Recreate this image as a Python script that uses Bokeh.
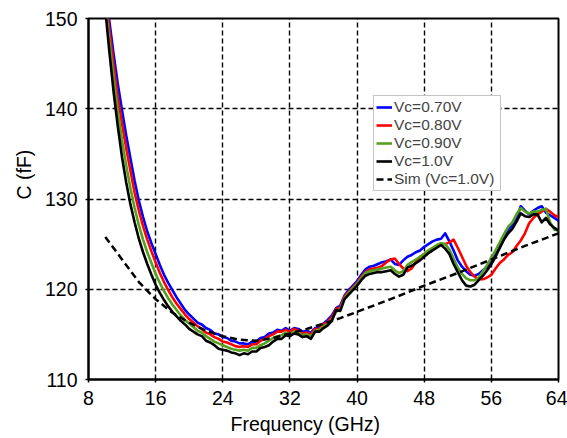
from bokeh.plotting import figure
from bokeh.models import Range1d, FixedTicker, Title
from bokeh.embed import file_html
from bokeh.resources import INLINE

FONT = "Liberation Sans"

# Measured capacitance C (fF) versus frequency (GHz) for several control voltages
freq = [10, 10.5, 11, 11.5, 12, 12.5, 13, 13.5, 14, 14.5, 15, 15.5, 16, 16.5, 17, 17.5,
        18, 18.5, 19, 19.5, 20,
        21, 21.5, 22, 22.5, 23, 23.5, 24, 24.5, 25, 25.5, 26, 26.5, 27, 27.5, 28, 28.5,
        29, 29.5, 30, 30.5, 31, 31.5, 32, 32.5, 33, 33.5, 34, 34.5, 35, 35.5, 36,
        36.5, 37, 37.5, 38, 38.5, 39, 39.5, 40, 40.5, 41, 41.5, 42, 42.5, 43, 43.5, 44,
        44.5, 45, 45.5, 46, 46.5, 47, 47.5, 48, 48.5, 49, 49.5, 50, 50.5, 51, 51.5, 52,
        52.5, 53, 53.5, 54, 54.5, 55, 55.5, 56, 56.5, 57, 57.5, 58, 58.5, 59, 59.5, 60,
        60.5, 61, 61.5, 62, 62.5, 63, 63.5, 64]

c_070 = [153.5, 149.6, 146.0, 142.7, 139.8, 137.0, 134.5, 132.0, 129.8, 128.0, 126.4, 125.1,
         123.9, 122.7, 121.6, 120.7, 119.9, 119.1, 118.4, 117.7, 117.2,
         116.3, 116.1, 115.7, 115.5, 115.1, 115.0, 114.7, 114.6, 114.3, 114.2, 114.0, 114.0,
         113.9, 114.2, 114.2, 114.6, 114.7, 115.1, 115.2, 115.5, 115.4, 115.7, 115.4, 115.7,
         115.6, 115.3, 115.4, 115.2, 115.7, 115.8, 116.2,
         116.6, 117.1, 117.9, 118.2, 119.3, 119.9, 120.4, 120.9, 121.6, 122.2, 122.5, 122.6,
         122.8, 123.0, 123.1, 123.3, 122.8, 122.7, 123.2, 123.6, 123.8, 124.1, 124.3, 124.7,
         125.0, 125.3, 125.5, 125.6, 126.2, 125.3, 124.3, 123.2, 122.5, 122.0, 121.6, 121.5,
         121.7, 122.1, 122.5, 123.2, 123.9, 124.6, 125.6, 126.6, 127.1, 127.8, 129.2, 128.7,
         128.3, 128.7, 129.0, 129.2, 128.5, 128.2, 127.9, 127.6]

c_080 = [152.6, 148.6, 144.8, 141.2, 138.3, 135.6, 133.1, 130.7, 128.7, 127.0, 125.5, 124.2,
         123.0, 121.8, 120.8, 119.9, 119.1, 118.4, 117.8, 117.2, 116.7,
         115.9, 115.6, 115.2, 115.0, 114.7, 114.5, 114.2, 114.1, 113.9, 113.7, 113.6, 113.7,
         113.6, 113.9, 113.9, 114.3, 114.5, 114.8, 115.0, 115.3, 115.3, 115.5, 115.3, 115.6,
         115.4, 115.1, 115.2, 115.0, 115.6, 115.6, 116.1,
         116.4, 116.9, 117.8, 118.0, 119.2, 119.7, 120.2, 120.7, 121.4, 121.9, 122.2, 122.3,
         122.4, 122.6, 123.0, 123.3, 123.4, 122.8, 122.3, 122.0, 122.3, 123.0, 123.6, 123.9,
         124.2, 124.5, 124.8, 125.0, 125.0, 125.2, 125.5, 124.6, 123.6, 122.6, 121.9, 121.4,
         121.1, 121.1, 121.3, 121.6, 122.3, 122.9, 123.3, 123.8, 124.1, 124.8, 125.4, 126.2,
         127.3, 127.9, 128.3, 128.6, 128.9, 128.6, 128.2, 128.0]

c_090 = [151.8, 147.4, 143.4, 139.7, 136.5, 133.7, 131.2, 129.0, 127.1, 125.5, 124.1, 122.9,
         121.7, 120.7, 119.8, 119.0, 118.3, 117.7, 117.1, 116.6, 116.2,
         115.4, 115.2, 114.8, 114.5, 114.2, 114.0, 113.8, 113.6, 113.4, 113.3, 113.2, 113.3,
         113.2, 113.5, 113.5, 113.8, 114.0, 114.3, 114.6, 114.8, 114.9, 115.2, 115.0, 115.3,
         115.2, 114.9, 115.0, 114.8, 115.4, 115.5, 115.9,
         116.2, 116.7, 117.5, 117.8, 119.0, 119.6, 120.1, 120.6, 121.2, 121.8, 122.0, 122.1,
         122.2, 122.3, 122.4, 122.5, 122.1, 121.8, 122.0, 122.7, 123.0, 123.3, 123.6, 123.9,
         124.3, 124.6, 124.9, 125.1, 125.0, 124.4, 123.4, 122.4, 121.7, 121.2, 121.0, 121.0,
         121.3, 122.0, 122.7, 123.5, 124.3, 125.2, 126.1, 126.9, 127.4, 128.3, 129.0, 128.6,
         128.4, 128.6, 128.6, 128.8, 128.9, 127.4, 126.6, 126.5]

c_100 = [151.0, 146.2, 141.8, 138.0, 134.6, 131.8, 129.4, 127.4, 125.6, 124.1, 122.8, 121.6,
         120.5, 119.6, 118.8, 118.1, 117.5, 117.0, 116.5, 116.1, 115.6,
         115.0, 114.8, 114.3, 114.1, 113.8, 113.4, 113.3, 113.2, 113.0, 112.9, 112.7, 112.9,
         112.8, 113.1, 113.1, 113.5, 113.6, 113.8, 114.2, 114.5, 114.5, 114.9, 114.8, 115.1,
         115.0, 114.7, 114.8, 114.5, 115.3, 115.3, 115.7,
         116.0, 116.5, 117.7, 117.6, 118.9, 119.4, 119.9, 120.4, 121.0, 121.5, 121.7, 121.8,
         121.9, 121.9, 122.0, 122.1, 121.7, 121.4, 121.6, 122.4, 122.6, 122.9, 123.2, 123.6,
         124.0, 124.3, 124.6, 124.9, 124.5, 123.9, 122.8, 121.9, 121.0, 120.4, 120.3, 120.5,
         121.0, 121.5, 122.1, 122.8, 123.6, 124.6, 125.5, 126.2, 126.7, 127.5, 128.4, 128.1,
         128.0, 128.3, 128.3, 127.4, 127.9, 127.2, 126.8, 126.5]

# Simulated capacitance at Vc = 1.0 V
sim_freq = [10, 12, 14, 16, 18, 20, 22, 24, 26, 28, 30, 32, 34, 36, 38, 40, 44, 48, 52, 56, 60, 64]
sim_c = [125.8, 123.3, 120.8, 118.9, 117.4, 116.3, 115.4, 114.8, 114.4, 114.3, 114.6, 115.1,
         115.6, 116.2, 116.8, 117.5, 118.9, 120.4, 121.8, 123.3, 124.8, 126.2]

series_labels = ["Vc=0.70V", "Vc=0.80V", "Vc=0.90V", "Vc=1.0V"]
series_colors = ["#0000ff", "#ff0000", "#55a01e", "#000000"]
sim_label = "Sim (Vc=1.0V)"

x_ticks = [8, 16, 24, 32, 40, 48, 56, 64]
y_ticks = [110, 120, 130, 140, 150]

p = figure(width=567, height=438, output_backend="svg", toolbar_location=None,
           x_range=Range1d(8, 64), y_range=Range1d(110, 150),
           min_border_left=88, min_border_right=9, min_border_top=18, min_border_bottom=59)

p.background_fill_color = "white"
p.border_fill_color = "white"
p.outline_line_color = "black"
p.outline_line_width = 2

for ax in (p.xaxis[0], p.yaxis[0]):
    ax.axis_line_color = "black"
    ax.axis_line_width = 2
    ax.major_tick_line_color = "black"
    ax.major_tick_line_width = 1.5
    ax.major_tick_out = 3
    ax.major_tick_in = 0
    ax.minor_tick_line_color = None
    ax.major_label_text_font = FONT
    ax.major_label_text_font_size = "19.5px"
    ax.major_label_text_color = "black"

p.xaxis.ticker = FixedTicker(ticks=x_ticks)
p.yaxis.ticker = FixedTicker(ticks=y_ticks)
p.xaxis.major_label_standoff = 8
p.yaxis.major_label_standoff = 8

p.xgrid.ticker = FixedTicker(ticks=x_ticks)
p.ygrid.ticker = FixedTicker(ticks=y_ticks)
p.grid.grid_line_color = "black"
p.grid.grid_line_width = 1.4
p.grid.grid_line_dash = "5 3"

for vals, color, label in zip([c_070, c_080, c_090, c_100], series_colors, series_labels):
    p.line(freq, vals, line_color=color, line_width=2.6, line_join="round",
           legend_label=label)

p.line(sim_freq, sim_c, line_color="black", line_width=2.5, line_dash="7 4",
       legend_label=sim_label)

leg = p.legend[0]
leg.location = (285, 188)
leg.margin = 0
leg.padding = 2
leg.spacing = 0
leg.label_text_font = FONT
leg.label_text_font_size = "15.5px"
leg.label_height = 16
leg.glyph_height = 16
leg.glyph_width = 16
leg.label_standoff = 2
leg.label_width = 104
leg.border_line_color = "#8c8c8c"
leg.border_line_width = 1
leg.background_fill_color = "white"
leg.background_fill_alpha = 1.0

# Axis titles, anchored from the start of each axis
p.add_layout(Title(text="Frequency (GHz)", align="left", offset=142, standoff=7,
                   text_font=FONT, text_font_size="19.5px", text_font_style="normal",
                   text_color="black"), "below")
p.add_layout(Title(text="C (fF)", align="left", offset=180, standoff=14,
                   text_font=FONT, text_font_size="19.5px", text_font_style="normal",
                   text_color="black"), "left")

open("out.html", "w").write(file_html(p, INLINE))
